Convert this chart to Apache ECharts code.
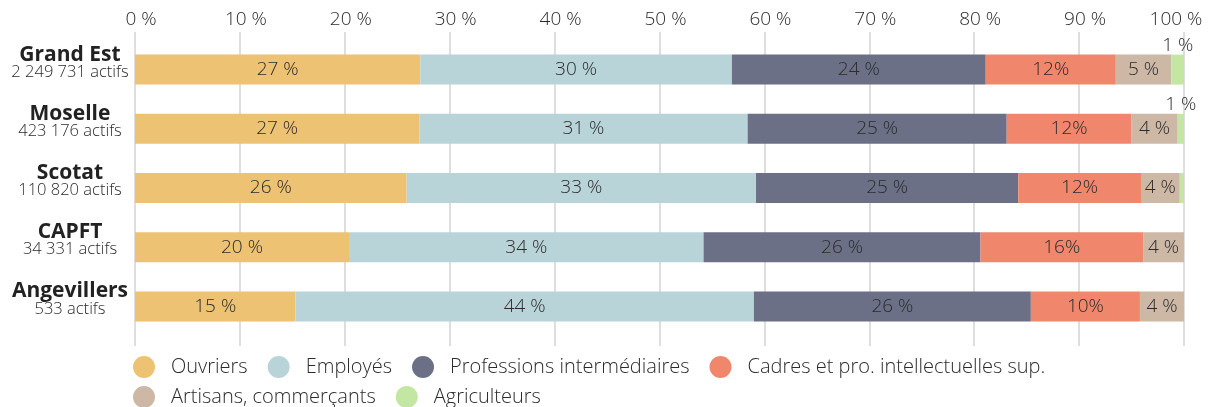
<!DOCTYPE html>
<html>
<head>
<meta charset="UTF-8">
<title>Actifs par catégorie</title>
<script src="https://cdn.jsdelivr.net/npm/echarts@6/dist/echarts.min.js"></script>
<style>
  html, body { margin: 0; padding: 0; background: #fff; }
  #chart { width: 1215px; height: 407px; }
</style>
</head>
<body>
<div id="chart"></div>
<script>
// territoires, du haut vers le bas
var categories = ['Grand Est', 'Moselle', 'Scotat', 'CAPFT', 'Angevillers'];
var actifs = ['2 249 731', '423 176', '110 820', '34 331', '533'];

// parts en %
var ouvriers     = [27.2, 27.1, 25.9, 20.4, 15.3];
var employes     = [29.7, 31.3, 33.3, 33.8, 43.7];
var profInter    = [24.2, 24.7, 25.0, 26.4, 26.4];
var cadres       = [12.4, 11.9, 11.7, 15.5, 10.4];
var artisans     = [5.3, 4.4, 3.7, 3.9, 4.2];
var agriculteurs = [1.2, 0.6, 0.4, 0, 0];

var tickLabels = ['0 %', '10 %', '20 %', '30 %', '40 %', '50 %', '60 %', '70 %', '80 %', '90 %', '100 %'];

var FONT = 'Open Sans';
var TXT = '#2b2b2b';
var GRID = '#dedede';

function pct(sep) {
  return function (p) {
    var r = Math.round(p.value);
    return r < 1 ? '' : r + sep + '%';
  };
}

function serie(name, data, color, sep, pos) {
  return {
    name: name,
    type: 'bar',
    stack: 'total',
    barWidth: 30,
    data: data,
    itemStyle: { color: color },
    label: {
      show: true,
      position: pos || 'inside',
      distance: 0,
      formatter: pct(sep),
      color: TXT,
      fontFamily: FONT,
      fontWeight: 300,
      fontSize: 19
    },
    emphasis: { disabled: true }
  };
}

function legende(top, names) {
  return {
    left: 133,
    top: top,
    padding: 0,
    data: names,
    icon: 'circle',
    itemWidth: 22,
    itemHeight: 22,
    itemGap: 20,
    selectedMode: false,
    textStyle: { fontFamily: FONT, fontWeight: 300, fontSize: 20, color: TXT, padding: [0, 0, 0, 11] }
  };
}

var chart = echarts.init(document.getElementById('chart'));
chart.setOption({
  animation: false,
  textStyle: { fontFamily: FONT },
  grid: { left: 135, right: 31, top: 40, bottom: 71, containLabel: false },
  xAxis: [
    {
      type: 'value',
      position: 'top',
      min: 0, max: 100, interval: 10,
      axisLine: { show: false },
      axisTick: { show: true, length: 8, lineStyle: { color: GRID, width: 2 } },
      splitLine: { show: true, lineStyle: { color: GRID, width: 2 } },
      axisLabel: {
        margin: 11,
        formatter: function (v) {
          var t = tickLabels[Math.round(v / 10)];
          return v === 100 ? '{l|' + t + '}' : '{r|' + t + '}';
        },
        rich: {
          r: { fontFamily: FONT, fontWeight: 300, fontSize: 19, color: TXT, padding: [0, 0, 0, 12] },
          l: { fontFamily: FONT, fontWeight: 300, fontSize: 19, color: TXT, padding: [0, 16, 0, 0] }
        }
      }
    },
    {
      type: 'value',
      position: 'bottom',
      min: 0, max: 100, interval: 10,
      axisLine: { show: false },
      axisTick: { show: true, length: 10, lineStyle: { color: GRID, width: 2 } },
      splitLine: { show: false },
      axisLabel: { show: false }
    }
  ],
  yAxis: {
    type: 'category',
    inverse: true,
    data: categories,
    axisLine: { show: false },
    axisTick: { show: false },
    axisLabel: {
      align: 'center',
      margin: 65,
      padding: [0, 0, 14, 0],
      formatter: function (v, i) {
        return '{n|' + v + '}\n{s|' + actifs[i] + ' actifs}';
      },
      rich: {
        n: { fontFamily: FONT, fontWeight: 'bold', fontSize: 21, color: '#222', lineHeight: 19, align: 'center' },
        s: { fontFamily: FONT, fontWeight: 300, fontSize: 16.5, color: TXT, lineHeight: 16, align: 'center' }
      }
    }
  },
  legend: [
    legende(356, ['Ouvriers', 'Employés', 'Professions intermédiaires', 'Cadres et pro. intellectuelles sup.']),
    legende(386, ['Artisans, commerçants', 'Agriculteurs'])
  ],
  series: [
    serie('Ouvriers', ouvriers, '#edc272', ' '),
    serie('Employés', employes, '#b9d4d9', ' '),
    serie('Professions intermédiaires', profInter, '#6b7087', ' '),
    serie('Cadres et pro. intellectuelles sup.', cadres, '#f0876c', ''),
    serie('Artisans, commerçants', artisans, '#cdb8a6', ' '),
    serie('Agriculteurs', agriculteurs, '#c4e6a3', ' ', 'top')
  ]
});
</script>
</body>
</html>
